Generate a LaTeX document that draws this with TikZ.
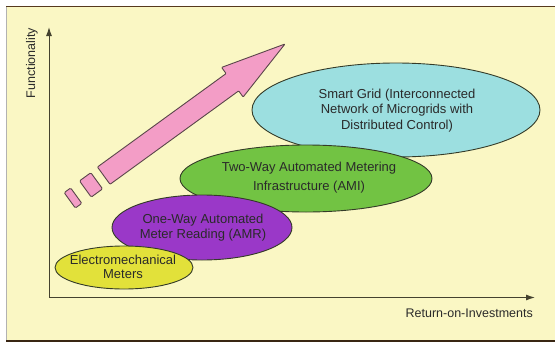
\documentclass[tikz,border=0pt]{standalone}
\usepackage{fontspec}
\setmainfont{Liberation Sans}
\usetikzlibrary{shapes.geometric,arrows.meta}

\definecolor{paper}{HTML}{FAF7C4}
\definecolor{ink}{HTML}{2A2A2A}
\definecolor{edge}{HTML}{343B28}
\definecolor{axisc}{HTML}{44422F}
\definecolor{pinkfill}{HTML}{F39DC6}
\definecolor{pinkedge}{HTML}{5A464A}
\definecolor{cyanfill}{HTML}{9CDFE0}
\definecolor{greenfill}{HTML}{72C343}
\definecolor{purplefill}{HTML}{9A38C8}
\definecolor{yellowfill}{HTML}{E2E13A}

\tikzset{
  stage/.style={ellipse, draw=edge, line width=0.9pt, inner sep=0pt},
  stagetext/.style={text=ink, align=center, font=\fontsize{13}{15.5}\selectfont},
  axisline/.style={draw=axisc, line width=1pt, -{Latex[length=9pt,width=6pt]}},
  axislabel/.style={text=ink, font=\fontsize{12.5}{15}\selectfont, inner sep=0pt},
  piece/.style={fill=pinkfill, draw=pinkedge, line width=0.9pt, rounded corners=1.2pt, line join=round},
}

\begin{document}
\begin{tikzpicture}[x=1pt, y=-1pt]
  % page and frame
  \fill[white] (0,0) rectangle (555,343);
  \useasboundingbox (0,0) rectangle (555,343);
  \fill[paper] (6,6) rectangle (556,341);
  \draw[gray!60, line width=1pt] (6,341) -- (6,6.5);
  \draw[black!55!brown, line width=1.3pt] (6,6.5) -- (556,6.5);
  \draw[black!70!brown, line width=1.6pt] (6,341) -- (556,341);

  % axes
  \coordinate (origin) at (49,297.5);
  \coordinate (ytip) at (49,27);
  \coordinate (xtip) at (535,297.5);
  \draw[axisline] (origin) -- (ytip);
  \draw[axisline] (origin) -- (xtip);
  \node[axislabel, rotate=90] (ylab) at (32,63) {Functionality};
  \node[axislabel, anchor=east] (xlab) at (533,313) {Return-on-Investments};

  % growth arrow, drawn along its own axis
  \begin{scope}[shift={(73,198)}, rotate=36]
    \draw[piece] (-4,-9.5) rectangle (4,9.5);
    \draw[piece] (15.3,-10) rectangle (29.3,10);
    \draw[piece, rounded corners=0.8pt] (38,-10.7) -- (197,-10.7) -- (197,-18.3) -- (262,0)
      -- (197,18.3) -- (197,10.7) -- (38,10.7) -- cycle;
  \end{scope}

  % stages
  \node[stage, fill=cyanfill, minimum width=288pt, minimum height=94pt] (grid) at (396,110) {};
  \node[stagetext] (gridt) at (397,110.5) {Smart Grid (Interconnected\\Network of Microgrids with\\Distributed Control)};

  \node[stage, fill=greenfill, minimum width=252pt, minimum height=67pt] (ami) at (306,178.5) {};
  \node[stagetext, font=\fontsize{13}{19}\selectfont] (amit) at (309,177.5) {Two-Way Automated Metering\\Infrastructure (AMI)};

  \node[stage, fill=purplefill, minimum width=180pt, minimum height=65pt] (amr) at (202,227.5) {};
  \node[stagetext] (amrt) at (203,227.5) {One-Way Automated\\Meter Reading (AMR)};

  \node[stage, fill=yellowfill, minimum width=138pt, minimum height=43pt] (emm) at (124,267.5) {};
  \node[stagetext, font=\fontsize{13}{14.5}\selectfont] (emmt) at (123,267) {Electromechanical\\Meters};
\end{tikzpicture}
\end{document}
